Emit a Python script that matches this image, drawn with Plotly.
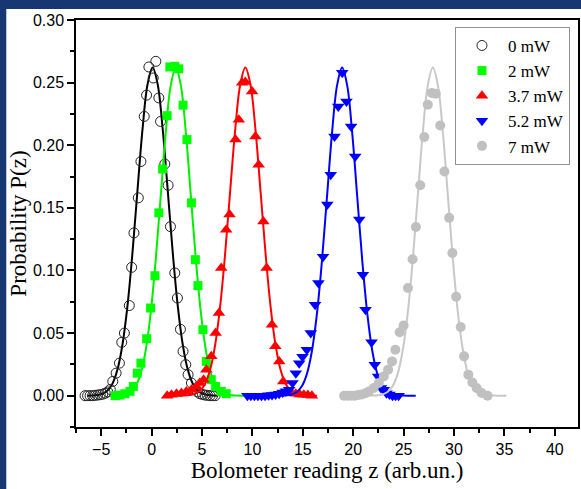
import plotly.graph_objects as go

# ---------------- data ----------------
labels = ["0 mW", "2 mW", "3.7 mW", "5.2 mW", "7 mW"]

# measured points
x_0mW = [-6.6, -6.35, -6.1, -5.85, -5.6, -5.35, -5.1, -4.85, -4.6, -4.35, -4.1, -3.85, -3.52, -3.19, -2.96, -2.70,
         -2.21, -1.98, -1.75, -1.32, -1.06, -0.73, -0.50, -0.27, 0.16, 0.42, 0.72, 0.89, 1.31, 1.64, 1.87, 2.30,
         2.56, 2.86, 3.12, 3.39, 3.62, 3.95, 4.27, 4.55, 4.8, 5.05, 5.3, 5.55, 5.8, 6.05, 6.3]
y_0mW = [0, 0, 0, 0, 0.0003, 0.0005, 0.0008, 0.0012, 0.002, 0.003, 0.005, 0.0114, 0.018, 0.026, 0.0426, 0.050,
         0.072, 0.1025, 0.130, 0.158, 0.187, 0.223, 0.240, 0.2625, 0.2537, 0.267, 0.2378, 0.219, 0.185, 0.168, 0.135, 0.098,
         0.078, 0.053, 0.0354, 0.0248, 0.0168, 0.0101, 0.0053, 0.003, 0.0015, 0.001, 0.0005, 0.0003, 0, 0, 0]

x_2mW = [-3.62, -3.13, -2.64, -2.14, -1.81, -1.42, -1.06, -0.49, -0.10, 0.33, 0.72, 1.09, 1.54, 1.81, 2.30, 2.69,
         3.12, 3.51, 3.95, 4.34, 4.60, 5.09, 5.43, 5.92, 6.35, 6.91, 7.40]
y_2mW = [0, 0.0005, 0.0016, 0.0035, 0.0074, 0.018, 0.026, 0.0455, 0.070, 0.0958, 0.146, 0.181, 0.2236, 0.2625, 0.263, 0.261,
         0.232, 0.2045, 0.154, 0.1086, 0.0879, 0.0527, 0.0274, 0.0128, 0.0074, 0.0034, 0.0016]

x_37mW = [1.54, 1.97, 2.47, 2.96, 3.45, 3.95, 4.44, 4.77, 5.16, 5.43, 5.92, 6.35, 6.68, 6.91, 7.40, 7.73, 8.32, 8.65,
          8.98, 9.30, 9.97, 10.30, 10.62, 11.09, 11.41, 11.94, 12.27, 12.66, 13.06, 13.48, 13.9, 14.3, 14.7, 15.1, 15.5, 15.9]
y_37mW = [0, 0.0008, 0.0016, 0.0021, 0.0034, 0.0048, 0.0074, 0.0101, 0.0128, 0.0208, 0.0314, 0.050, 0.066, 0.102, 0.1326,
          0.1446, 0.2045, 0.2204, 0.2498, 0.2505, 0.243, 0.207, 0.1845, 0.139, 0.102, 0.0567, 0.0394, 0.0274, 0.0114,
          0.0034, 0.002, 0.0015, 0.001, 0.0008, 0.0005, 0]

x_52mW = [9.5, 9.85, 10.2, 10.55, 10.9, 11.25, 11.6, 11.95, 12.3, 12.65, 13.0, 13.33, 13.65, 13.98, 14.31, 14.64, 14.97,
          15.4, 15.79, 16.22, 16.55, 17.01, 17.43, 17.77, 18.15, 18.52, 18.91, 19.33, 19.79, 20.2, 20.6, 20.96, 21.22,
          21.82, 22.14, 22.47, 22.75, 23.03, 23.3, 23.6, 23.9, 24.2, 24.5]
y_52mW = [0, 0, 0, 0, 0, 0, 0.0003, 0.0006, 0.001, 0.0016, 0.0025, 0.0035, 0.0048, 0.0101, 0.018, 0.026, 0.031,
          0.0367, 0.050, 0.0727, 0.090, 0.111, 0.1526, 0.1765, 0.207, 0.231, 0.2578, 0.235, 0.215, 0.191, 0.1406, 0.0966,
          0.0687, 0.0426, 0.0248, 0.0154, 0.0061, 0.0048, 0.002, 0.001, 0, 0, 0]

x_7mW = [19.1, 19.45, 19.8, 20.15, 20.5, 20.85, 21.2, 21.55, 22.04, 22.54, 23.03, 23.46, 23.85, 24.18, 24.61, 25.0,
         25.43, 25.89, 26.22, 26.65, 27.05, 27.40, 27.80, 28.19, 28.63, 29.05, 29.52, 29.84, 30.21, 30.66, 31.0, 31.42,
         31.82, 32.24, 32.74, 33.33]
y_7mW = [0, 0, 0, 0, 0.0005, 0.001, 0.002, 0.0034, 0.0061, 0.0101, 0.0154, 0.0208, 0.0274, 0.0367, 0.0506, 0.056,
         0.086, 0.109, 0.1347, 0.168, 0.2066, 0.2324, 0.2418, 0.2412, 0.2157, 0.179, 0.142, 0.114, 0.079, 0.0549, 0.0314,
         0.0168, 0.0106, 0.0061, 0.0021, 0]

# fitted curves
fx_0mW = [-6.4, -5.9, -5.4, -4.9, -4.4, -3.9, -3.4, -2.9, -2.4, -1.9, -1.4, -0.9, -0.4, 0.1, 0.6, 1.1, 1.6, 2.1, 2.6,
          3.1, 3.6, 4.1, 4.6, 5.1, 5.6, 6.1, 6.6]
fy_0mW = [0.0, 0.0001, 0.0005, 0.0014, 0.0039, 0.0094, 0.0205, 0.0403, 0.0713, 0.1140, 0.1640, 0.2128, 0.2487, 0.262,
          0.2487, 0.2128, 0.1640, 0.1140, 0.0713, 0.0403, 0.0205, 0.0094, 0.0039, 0.0014, 0.0005, 0.0001, 0.0]

fx_2mW = [-3.9, -3.6, -3.1, -2.6, -2.1, -1.6, -1.1, -0.6, -0.1, 0.4, 0.9, 1.4, 1.9, 2.4, 2.9, 3.4, 3.9, 4.4, 4.9, 5.4,
          5.9, 6.4, 6.9, 7.4, 7.9, 8.4, 8.9, 9.4]
fy_2mW = [0.0, 0.0001, 0.0003, 0.0010, 0.0029, 0.0075, 0.0172, 0.0355, 0.0653, 0.1077, 0.1589, 0.2098, 0.2478, 0.262,
          0.2478, 0.2098, 0.1589, 0.1077, 0.0653, 0.0355, 0.0172, 0.0075, 0.0029, 0.0010, 0.0003, 0.0001, 0.0, 0.0]

fx_37mW = [1.3, 2.3, 2.8, 3.3, 3.8, 4.3, 4.8, 5.3, 5.8, 6.3, 6.8, 7.3, 7.8, 8.3, 8.8, 9.3, 9.8, 10.3, 10.8, 11.3, 11.8,
           12.3, 12.8, 13.3, 13.8, 14.3, 14.8, 15.3, 15.8, 16.4]
fy_37mW = [0.0, 0.0, 0.0, 0.0001, 0.0005, 0.0014, 0.0039, 0.0094, 0.0205, 0.0403, 0.0713, 0.1140, 0.1640, 0.2128, 0.2487,
           0.262, 0.2487, 0.2128, 0.1640, 0.1140, 0.0713, 0.0403, 0.0205, 0.0094, 0.0039, 0.0014, 0.0005, 0.0001, 0.0, 0.0]

fx_52mW = [9.4, 10.9, 11.9, 12.4, 12.9, 13.4, 13.9, 14.4, 14.9, 15.4, 15.9, 16.4, 16.9, 17.4, 17.9, 18.4, 18.9, 19.4,
           19.9, 20.4, 20.9, 21.4, 21.9, 22.4, 22.9, 23.4, 23.9, 24.4, 24.9, 25.4, 26.2]
fy_52mW = [0.0, 0.0, 0.0, 0.0, 0.0001, 0.0003, 0.0010, 0.0029, 0.0075, 0.0172, 0.0355, 0.0653, 0.1077, 0.1589, 0.2098,
           0.2478, 0.262, 0.2478, 0.2098, 0.1589, 0.1077, 0.0653, 0.0355, 0.0172, 0.0075, 0.0029, 0.0010, 0.0003, 0.0001,
           0.0, 0.0]

fx_7mW = [20.2, 21.4, 21.9, 22.4, 22.9, 23.4, 23.9, 24.4, 24.9, 25.4, 25.9, 26.4, 26.9, 27.4, 27.9, 28.4, 28.9, 29.4,
          29.9, 30.4, 30.9, 31.4, 31.9, 32.4, 32.9, 33.4, 33.9, 34.4, 35.2]
fy_7mW = [0.0, 0.0, 0.0001, 0.0003, 0.0010, 0.0029, 0.0075, 0.0172, 0.0355, 0.0653, 0.1077, 0.1589, 0.2098, 0.2478,
          0.262, 0.2478, 0.2098, 0.1589, 0.1077, 0.0653, 0.0355, 0.0172, 0.0075, 0.0029, 0.0010, 0.0003, 0.0001, 0.0, 0.0]

x_tick_vals = [-5, 0, 5, 10, 15, 20, 25, 30, 35, 40]
y_tick_vals = [0.00, 0.05, 0.10, 0.15, 0.20, 0.25, 0.30]

# ---------------- styling ----------------
series = [
    (labels[0], x_0mW, y_0mW, fx_0mW, fy_0mW, "black", dict(symbol="circle-open", size=10, color="#222222", line=dict(width=1, color="#222222"))),
    (labels[1], x_2mW, y_2mW, fx_2mW, fy_2mW, "#00EE00", dict(symbol="square", size=9, color="#00FF00")),
    (labels[2], x_37mW, y_37mW, fx_37mW, fy_37mW, "#FF0000", dict(symbol="triangle-up", size=11, color="#FF0000")),
    (labels[3], x_52mW, y_52mW, fx_52mW, fy_52mW, "#0000FF", dict(symbol="triangle-down", size=11, color="#0000FF")),
    (labels[4], x_7mW, y_7mW, fx_7mW, fy_7mW, "#C8C8C8", dict(symbol="circle", size=10, color="#C0C0C0")),
]

fig = go.Figure()
for name, xs, ys, fxs, fys, lc, mk in series:
    fig.add_trace(go.Scatter(x=fxs, y=fys, mode="lines", line=dict(color=lc, width=2, shape="spline"),
                             showlegend=False, hoverinfo="skip"))
    fig.add_trace(go.Scatter(x=xs, y=ys, mode="markers", marker=mk, name=name))

serif = "Liberation Serif, Times New Roman, serif"
sans = "Liberation Sans, Arial, sans-serif"
navy = "#163772"

axis_common = dict(showline=True, linecolor="black", linewidth=1.5, mirror=True, showgrid=False, zeroline=False,
                   ticks="outside", ticklen=7, tickwidth=1.5, tickcolor="black",
                   tickfont=dict(family=sans, size=16, color="black"))

# plot area: x 76..580, y 20..427 (px); navy frame on top (9 px) and left (6 px)
fig.update_layout(
    width=581, height=489,
    margin=dict(l=76, r=1, t=20, b=62),
    paper_bgcolor=navy, plot_bgcolor="white",
    xaxis=dict(range=[-7.5, 42.3], tickvals=x_tick_vals,
               minor=dict(dtick=2.5, tick0=0, ticks="outside", ticklen=4, tickwidth=1.5, tickcolor="black"),
               title=dict(text="Bolometer reading z (arb.un.)", font=dict(family=serif, size=23, color="black"), standoff=0),
               **axis_common),
    yaxis=dict(range=[-0.025, 0.30], tickvals=y_tick_vals, tickformat=".2f",
               minor=dict(dtick=0.025, tick0=0, ticks="outside", ticklen=4, tickwidth=1.5, tickcolor="black"),
               title=dict(text="Probability P(z)", font=dict(family=serif, size=23, color="black"), standoff=0),
               **axis_common),
    legend=dict(x=0.984, y=0.983, xanchor="right", yanchor="top", bgcolor="white",
                bordercolor="#909090", borderwidth=1, font=dict(family=serif, size=17, color="black"),
                tracegroupgap=0, itemwidth=42),
    shapes=[
        dict(type="rect", xref="paper", yref="paper", x0=-70 / 504, x1=1.1, y0=-0.3, y1=1 + 11 / 407,
             fillcolor="white", line=dict(width=0), layer="below"),
    ],
)

fig.write_html("out.html", config={"displayModeBar": False},
               post_script="document.body.style.margin='0';document.body.style.overflow='hidden';")
